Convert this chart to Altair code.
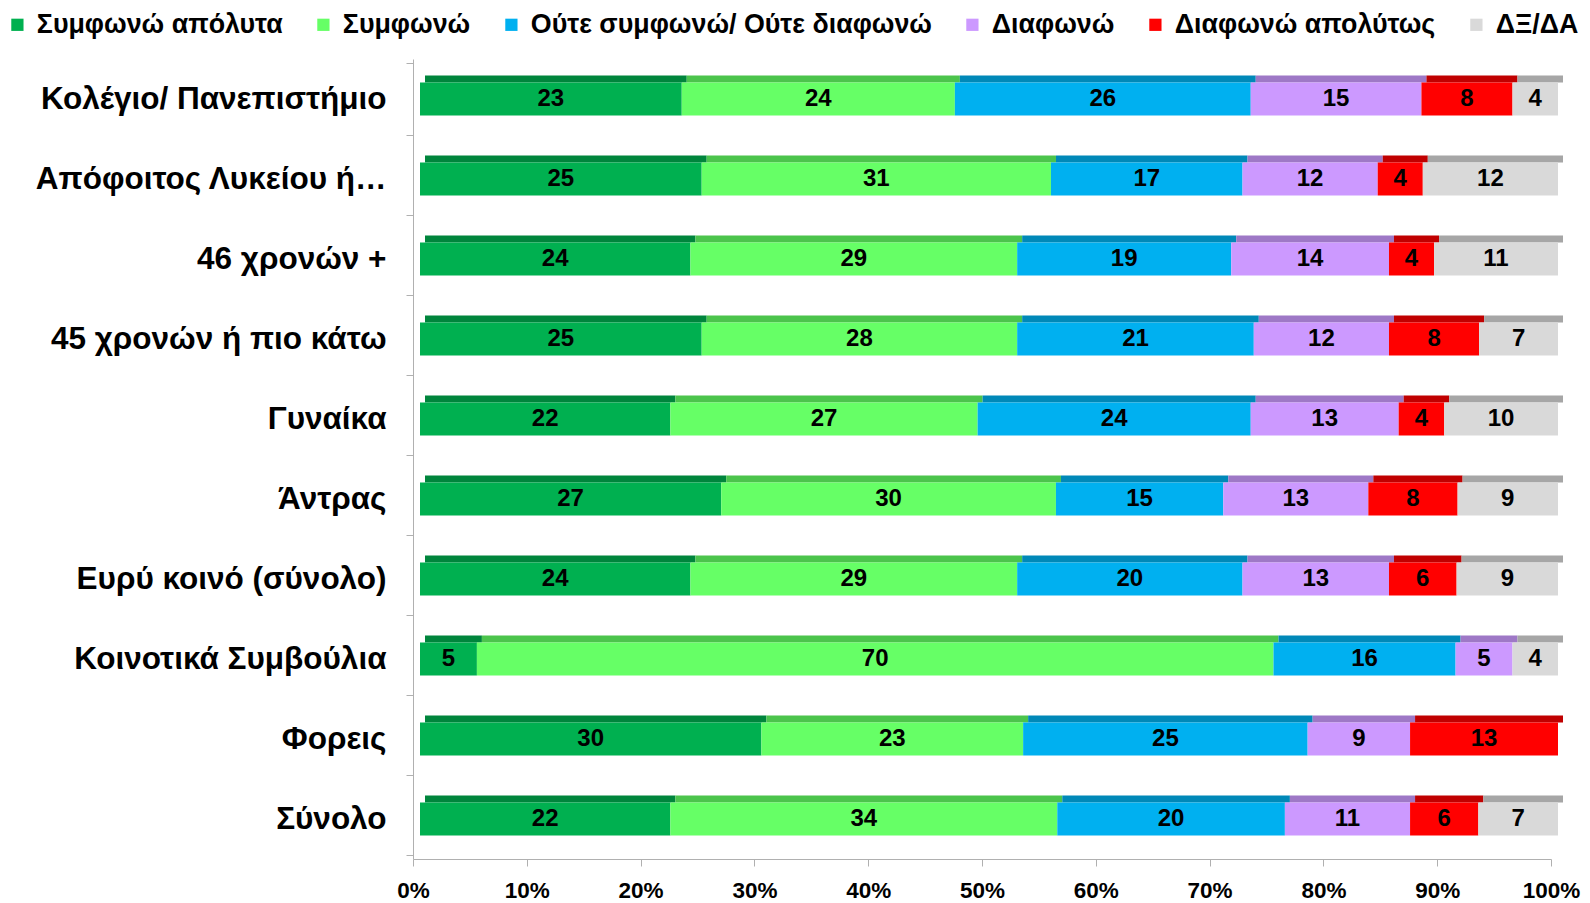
import altair as alt
import pandas as pd

categories = ["Κολέγιο/ Πανεπιστήμιο", "Απόφοιτος Λυκείου ή…", "46 χρονών + ",
              "45 χρονών ή πιο κάτω", "Γυναίκα", "Άντρας", "Ευρύ κοινό  (σύνολο)",
              "Κοινοτικά Συμβούλια", "Φορεις", "Σύνολο"]
responses = ["Συμφωνώ απόλυτα", "Συμφωνώ", "Ούτε συμφωνώ/ Ούτε διαφωνώ",
             "Διαφωνώ", "Διαφωνώ απολύτως", "ΔΞ/ΔΑ"]
agree_abs = [23, 25, 24, 25, 22, 27, 24, 5, 30, 22]
agree = [24, 31, 29, 28, 27, 30, 29, 70, 23, 34]
neutral = [26, 17, 19, 21, 24, 15, 20, 16, 25, 20]
disagree = [15, 12, 14, 12, 13, 13, 13, 5, 9, 11]
disagree_abs = [8, 4, 4, 8, 4, 8, 6, 0, 13, 6]
dk = [4, 12, 11, 7, 10, 9, 9, 4, 0, 7]
colors = ["#00b050", "#66ff66", "#00b0f0", "#cc99ff", "#ff0000", "#d9d9d9"]
top_colors = ["#00853c", "#4cc44c", "#0088b8", "#9e78c6", "#c00000", "#a6a6a6"]

series = [agree_abs, agree, neutral, disagree, disagree_abs, dk]
rows = []
for ri, (resp, vals) in enumerate(zip(responses, series)):
    for cat, v in zip(categories, vals):
        rows.append({"cat": cat, "resp": resp, "resp_top": resp + " ", "order": ri, "value": v})
df = pd.DataFrame(rows)

FONT = "Liberation Sans"

base = (
    alt.Chart(df)
    .transform_filter(alt.datum.value > 0)
    .transform_stack(stack="value", as_=["x0", "x1"], groupby=["cat"],
                     sort=[alt.SortField("order")], offset="normalize")
    .transform_calculate(mid="(datum.x0 + datum.x1) / 2")
)

y_enc = alt.Y("cat:N", sort=categories, title=None,
              axis=alt.Axis(labelFontSize=31.5, labelFontWeight="bold", labelColor="black",
                            labelLimit=600, tickBand="extent", tickSize=7,
                            tickColor="#b0b0b0", domainColor="#b0b0b0",
                            labelPadding=20))
x_scale = alt.Scale(domain=[0, 1], nice=False)
x_axis = alt.Axis(format="%", values=[i / 10 for i in range(11)], labelFontSize=22.5,
                  labelFontWeight="bold", labelColor="black", tickSize=7,
                  tickColor="#b0b0b0", domainColor="#b0b0b0", grid=False,
                  labelPadding=13, labelFlush=False)

top = base.mark_bar(size=7, yOffset=-20, xOffset=12, x2Offset=12).encode(
    x=alt.X("x0:Q", scale=x_scale, axis=x_axis, title=None),
    x2="x1:Q",
    y=y_enc,
    color=alt.Color("resp_top:N", scale=alt.Scale(domain=[r + " " for r in responses],
                                                  range=top_colors), legend=None),
)

front = base.mark_bar(size=33, xOffset=7, x2Offset=7).encode(
    x=alt.X("x0:Q", scale=x_scale, axis=x_axis, title=None),
    x2="x1:Q",
    y=y_enc,
    color=alt.Color("resp:N", scale=alt.Scale(domain=responses, range=colors),
                    legend=alt.Legend(title=None, orient="none", legendX=-409, legendY=-48,
                                      direction="horizontal", columns=6,
                                      symbolType="square", symbolSize=150,
                                      symbolStrokeWidth=0, labelFontSize=26.8,
                                      labelFontWeight="bold", labelColor="black",
                                      labelLimit=700, columnPadding=27, labelOffset=6)),
)

text = base.mark_text(fontSize=24, fontWeight="bold", color="black", xOffset=7,
                      font=FONT).encode(
    x=alt.X("mid:Q", scale=x_scale),
    y=alt.Y("cat:N", sort=categories),
    text="value:Q",
)

chart = (
    alt.layer(top, front, text)
    .resolve_scale(color="independent")
    .properties(width=1138, height=800,
                autosize=alt.AutoSizeParams(type="none"),
                padding={"left": 405, "top": 51, "right": 30, "bottom": 46})
    .configure(font=FONT)
    .configure_view(stroke=None)
)

chart.save("out.html", embed_options={"renderer": "svg", "actions": False})
